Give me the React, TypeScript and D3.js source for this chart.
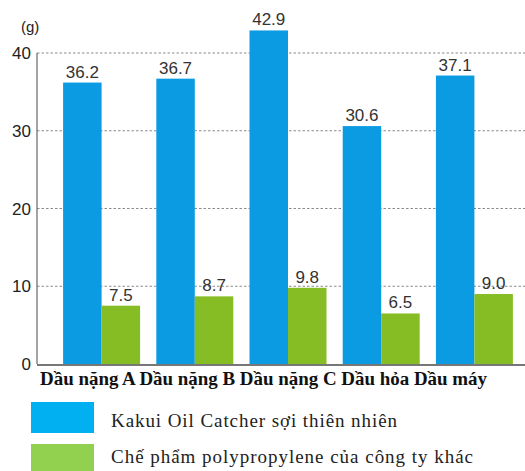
import React from "react";
import * as d3 from "d3";

const width = 525;
const height = 471;

const categories = ["Dầu nặng A", "Dầu nặng B", "Dầu nặng C", "Dầu hỏa", "Dầu máy"];
const kakuiValues = [36.2, 36.7, 42.9, 30.6, 37.1];
const otherValues = [7.5, 8.7, 9.8, 6.5, 9.0];
const seriesNames = ["Kakui Oil Catcher sợi thiên nhiên", "Chế phẩm polypropylene của công ty khác"];
const yTicks = [0, 10, 20, 30, 40];

const barColors = ["#0a9be2", "#86bd25"];
const legendColors = ["#00b0f0", "#92d050"];
const legendTextWidths = [286, 362];

const x = d3.scaleBand<string>()
    .domain(categories)
    .range([37, 539])
    .paddingInner(0.174)
    .paddingOuter(0.28);

const xInner = d3.scaleBand<number>()
    .domain([0, 1])
    .range([0, x.bandwidth()]);

const y = d3.scaleLinear().domain([0, 40]).range([364, 53]);

const sans = "'Liberation Sans', Arial, sans-serif";
const serif = "'Liberation Serif', 'Times New Roman', serif";

function App() {
    const series = [kakuiValues, otherValues];

    return (
        <svg width={width} height={height} style={{position: "absolute", left: 0, top: 0, background: "#fff"}}>
            {/* grid */}
            {yTicks.filter(t => t > 0).map(t => (
                <line key={t} x1={37} x2={width} y1={y(t)} y2={y(t)}
                      stroke="#8a8a8a" strokeWidth={1.2} strokeDasharray="2.5,2"/>
            ))}
            {yTicks.map(t => (
                <text key={"t" + t} x={31} y={y(t) + 6} textAnchor="end" fontFamily={sans}
                      fontSize={17} fill="#222">{t}</text>
            ))}
            <text x={21} y={32} fontFamily={sans} fontSize={15} fill="#222">(g)</text>

            {/* bars */}
            {categories.map((c, i) => (
                <g key={c} transform={`translate(${x(c)},0)`}>
                    {series.map((vals, s) => (
                        <g key={s}>
                            <rect x={xInner(s)} width={xInner.bandwidth()} y={y(vals[i])}
                                  height={y(0) - y(vals[i])} fill={barColors[s]}/>
                            <text x={(xInner(s) ?? 0) + xInner.bandwidth() / 2} y={y(vals[i]) - 5}
                                  textAnchor="middle" fontFamily={sans} fontSize={17} fill="#333">
                                {vals[i].toFixed(1)}
                            </text>
                        </g>
                    ))}
                </g>
            ))}

            {/* axes */}
            <line x1={37} x2={37} y1={y(40)} y2={y(0)} stroke="#666" strokeWidth={1.2}/>
            <line x1={37} x2={width} y1={y(0) + 1} y2={y(0) + 1} stroke="#777" strokeWidth={2}/>

            {/* category labels */}
            <text x={40} y={385} fontFamily={serif} fontWeight="bold" fontSize={18} fill="#111"
                  textLength={447} lengthAdjust="spacingAndGlyphs">
                {categories.join(" ")}
            </text>

            {/* legend */}
            {seriesNames.map((name, s) => (
                <g key={name}>
                    <rect x={31} y={402 + s * 42} width={63} height={31} fill={legendColors[s]}/>
                    <text x={111} y={427 + s * 36} fontFamily={serif} fontSize={19} fill="#222"
                          textLength={legendTextWidths[s]} lengthAdjust="spacing">{name}</text>
                </g>
            ))}
        </svg>
    );
}

export default App;
